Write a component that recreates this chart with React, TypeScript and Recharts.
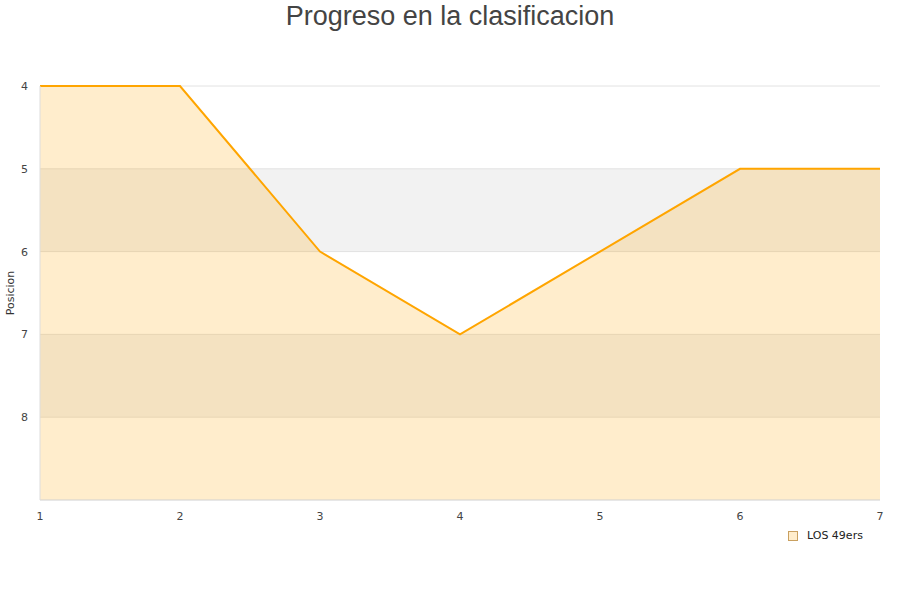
import React from 'react';
import { ComposedChart, Area, XAxis, YAxis, CartesianGrid, Legend, Customized } from 'recharts';

const jornadas = [1, 2, 3, 4, 5, 6, 7];
const posiciones = [4, 4, 6, 7, 6, 5, 5];
const yTicks = [4, 5, 6, 7, 8];
const xTicks = [1, 2, 3, 4, 5, 6, 7];
const seriesName = 'LOS 49ers';
const title = 'Progreso en la clasificacion';
const yLabel = 'Posicion';

const data = jornadas.map((j, i) => ({ jornada: j, pos: posiciones[i] }));

const LegendContent = () => (
  <div style={{ display: 'flex', alignItems: 'center', fontFamily: 'DejaVu Sans, sans-serif', fontSize: 11, color: '#222' }}>
    <span style={{ display: 'inline-block', width: 8, height: 8, background: '#ffedcc', border: '1px solid #c9a060', marginRight: 9 }} />
    <span>{seriesName}</span>
  </div>
);

export default function App() {
  return (
    <div style={{ position: 'absolute', left: 0, top: 0, width: 900, height: 600, background: '#fff' }}>
      <ComposedChart width={900} height={600} data={data} margin={{ top: 86, left: 0, right: 20, bottom: 57 }}>
        <CartesianGrid vertical={false} stroke="#e2e2e2" horizontalFill={['#ffffff', '#f2f2f2']} />
        <XAxis
          dataKey="jornada"
          type="number"
          domain={[1, 7]}
          ticks={xTicks}
          tickLine={false}
          axisLine={{ stroke: '#dddddd' }}
          tick={{ fontSize: 11, fill: '#444', fontFamily: 'DejaVu Sans, sans-serif' }}
          tickMargin={6}
          height={30}
        />
        <XAxis xAxisId="top" orientation="top" dataKey="jornada" type="number" domain={[1, 7]} tick={false} tickLine={false} axisLine={{ stroke: '#dddddd' }} height={0} />
        <YAxis
          reversed
          type="number"
          domain={[4, 9]}
          ticks={yTicks}
          tickLine={false}
          axisLine={{ stroke: '#dddddd' }}
          tick={{ fontSize: 11, fill: '#444', fontFamily: 'DejaVu Sans, sans-serif' }}
          tickMargin={6}
          width={40}
          label={{ value: yLabel, angle: -90, position: 'insideLeft', offset: 10, style: { fontSize: 11, fill: '#333', fontFamily: 'DejaVu Sans, sans-serif', textAnchor: 'middle' } }}
        />
        <YAxis yAxisId="right" orientation="right" tick={false} tickLine={false} axisLine={{ stroke: '#dddddd' }} width={0} />
        <Area
          type="linear"
          dataKey="pos"
          name={seriesName}
          stroke="#ffa500"
          strokeWidth={2}
          fill="#ffa500"
          fillOpacity={0.2}
          baseValue={9}
          dot={false}
          activeDot={false}
          isAnimationActive={false}
        />
        <Legend content={<LegendContent />} wrapperStyle={{ position: 'absolute', left: 788, top: 529, width: 100 }} />
        <Customized
          component={() => (
            <text x={450} y={25} textAnchor="middle" fontSize={27} fill="#444" fontFamily="Liberation Sans, Arial, sans-serif">
              {title}
            </text>
          )}
        />
      </ComposedChart>
    </div>
  );
}
